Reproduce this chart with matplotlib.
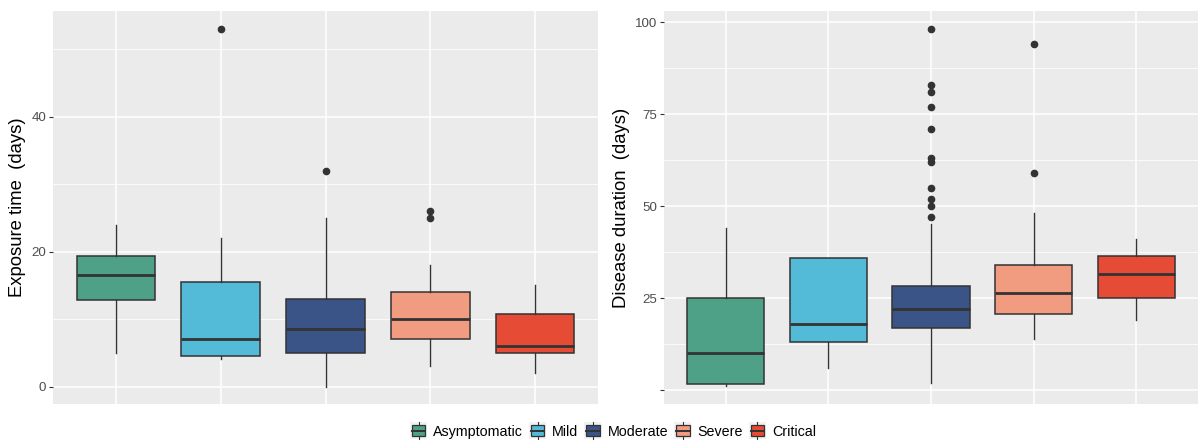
import matplotlib

matplotlib.use("Agg")
import matplotlib.pyplot as plt
from matplotlib.legend_handler import HandlerBase
from matplotlib.patches import Patch, Rectangle
from matplotlib.lines import Line2D

plt.rcParams.update({"font.family": ["Liberation Sans", "DejaVu Sans"]})

groups = ["Asymptomatic", "Mild", "Moderate", "Severe", "Critical"]
colors = ["#4EA087", "#53BBD7", "#3B5487", "#F19B80", "#E64B35"]

# exposure time (days): five-number summaries + outliers
exp_whislo = [5, 4.1, 0, 3, 2]
exp_q1 = [12.8, 4.5, 5, 7, 5]
exp_med = [16.5, 7, 8.5, 10, 6]
exp_q3 = [19.3, 15.5, 13, 14, 10.8]
exp_whishi = [24, 22, 25, 18, 15]
exp_fliers = [[], [53], [32], [26, 25], []]

# disease duration (days)
dur_whislo = [1, 6, 2, 14, 19]
dur_q1 = [1.6, 13, 16.8, 20.7, 25]
dur_med = [10, 18, 22, 26.4, 31.4]
dur_q3 = [25, 36, 28.4, 34, 36.4]
dur_whishi = [44, 36, 45, 48, 41]
dur_fliers = [[], [], [98, 83, 81, 77, 71, 63, 62, 55, 52, 50, 47], [94, 59], []]

EDGE = "#333333"


def make_stats(whislo, q1, med, q3, whishi, fliers):
    return [
        dict(whislo=a, q1=b, med=c, q3=d, whishi=e, fliers=f, label=g)
        for a, b, c, d, e, f, g in zip(whislo, q1, med, q3, whishi, fliers, groups)
    ]


def draw_panel(ax, stats, ylim, major, minor, ticklabels, ylabel):
    ax.set_facecolor("#EBEBEB")
    for s in ax.spines.values():
        s.set_visible(False)
    bp = ax.bxp(
        stats,
        positions=range(1, 6),
        widths=0.75,
        patch_artist=True,
        showcaps=False,
        boxprops=dict(edgecolor=EDGE, linewidth=1.1),
        medianprops=dict(color=EDGE, linewidth=2.0),
        whiskerprops=dict(color=EDGE, linewidth=1.0),
        flierprops=dict(marker="o", markerfacecolor=EDGE, markeredgecolor=EDGE,
                        markersize=4.5, linestyle="none"),
        zorder=3,
    )
    for patch, c in zip(bp["boxes"], colors):
        patch.set_facecolor(c)
    ax.set_xlim(0.4, 5.6)
    ax.set_ylim(*ylim)
    ax.set_xticks(range(1, 6))
    ax.set_xticklabels([])
    ax.tick_params(axis="x", length=0)
    ax.set_yticks(major)
    ax.set_yticklabels(ticklabels)
    ax.set_yticks(minor, minor=True)
    ax.tick_params(axis="y", which="major", length=2.8, width=0.8, color="#333333",
                   labelsize=9.6, labelcolor="#4D4D4D", pad=2)
    ax.tick_params(axis="y", which="minor", length=0)
    ax.grid(True, which="major", color="white", linewidth=1.1, zorder=0)
    ax.grid(True, which="minor", axis="y", color="white", linewidth=0.55, zorder=0)
    ax.set_axisbelow(True)
    ax.set_ylabel(ylabel, fontsize=13.3, labelpad=4)


class BoxKeyHandler(HandlerBase):
    def create_artists(self, legend, orig_handle, xdescent, ydescent, width,
                       height, fontsize, trans):
        side = 17.0 * 72 / 100
        x0 = -xdescent + (width - side) / 2
        y0 = -ydescent + (height - side) / 2
        bg = Rectangle((x0, y0), side, side, facecolor="#F2F2F2", edgecolor="none",
                       transform=trans)
        bw, bh = side * 0.8, side * 0.62
        bx, by = x0 + (side - bw) / 2, y0 + (side - bh) / 2
        box = Rectangle((bx, by), bw, bh, facecolor=orig_handle.get_facecolor(),
                        edgecolor=EDGE, linewidth=0.9, transform=trans)
        xm = x0 + side / 2
        ym = y0 + side / 2
        med = Line2D([bx, bx + bw], [ym, ym], color=EDGE, linewidth=1.4, transform=trans)
        wlo = Line2D([xm, xm], [y0, by], color=EDGE, linewidth=0.8, transform=trans)
        whi = Line2D([xm, xm], [by + bh, y0 + side], color=EDGE, linewidth=0.8,
                     transform=trans)
        return [bg, box, med, wlo, whi]


fig = plt.figure(figsize=(11.98, 4.41), dpi=100)
W, H = 1198, 441
ax1 = fig.add_axes([53 / W, 1 - 404 / H, (598 - 53) / W, (404 - 11) / H])
ax2 = fig.add_axes([664 / W, 1 - 404 / H, (1198 - 664) / W, (404 - 11) / H])

draw_panel(ax1, make_stats(exp_whislo, exp_q1, exp_med, exp_q3, exp_whishi, exp_fliers),
           (-2.56, 55.66), [0, 20, 40], [10, 30, 50], ["0", "20", "40"],
           "Exposure time  (days)")
draw_panel(ax2, make_stats(dur_whislo, dur_q1, dur_med, dur_q3, dur_whishi, dur_fliers),
           (-3.8, 103.0), [0, 25, 50, 75, 100], [12.5, 37.5, 62.5, 87.5],
           ["", "25", "50", "75", "100"], "Disease duration  (days)")

handles = [Patch(facecolor=c, edgecolor=EDGE) for c in colors]
fig.legend(
    handles, groups, loc="center", bbox_to_anchor=(613 / W, 1 - 431 / H),
    ncol=5, frameon=False, fontsize=10.3, handler_map={Patch: BoxKeyHandler()},
    handlelength=1.2, handleheight=1.2, handletextpad=0.42, columnspacing=0.42,
    borderpad=0,
)

fig.savefig("out.png", dpi=100)
